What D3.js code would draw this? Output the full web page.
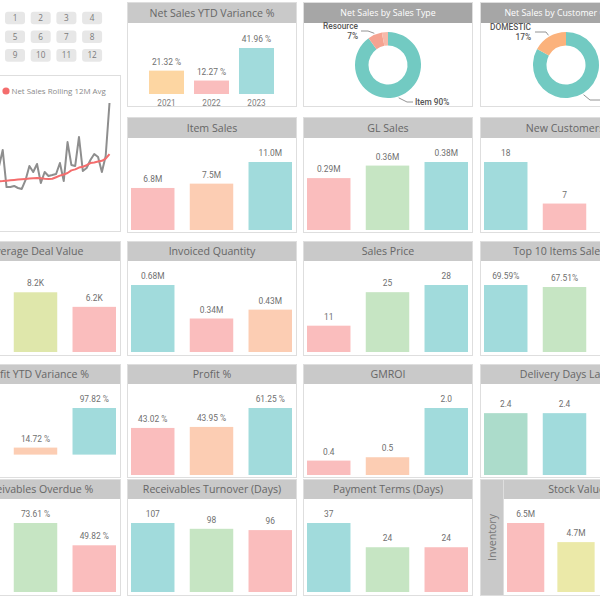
<!DOCTYPE html>
<html><head><meta charset="utf-8">
<script src="https://cdn.jsdelivr.net/npm/d3@7"></script>
<style>
html,body{margin:0;padding:0;background:#fff;overflow:hidden}
svg{display:block}
</style></head><body>
<svg id="c" width="600" height="600"></svg>
<script>
// ---------------- DATA ----------------
const monthButtons = ["1","2","3","4","5","6","7","8","9","10","11","12"];

// monthly net sales (K) and rolling 12M average (K), 36 months
const netSalesMonthly = [310,262,355,290,248,330,400,542,233,233,242,225,217,292,408,358,425,267,358,325,333,342,433,283,608,417,408,650,367,392,458,508,483,358,492,933];
const netSalesRolling = [262,266,269,272,275,278,281,283,286,289,292,295,298,301,304,307,308,306,303,301,302,315,328,338,350,372,380,395,402,415,433,438,445,452,470,508];
const lineLegend = ["Net Sales Rolling 12M Avg"];

const years = ["2021","2022","2023"];
const netSalesYtdVariance = [21.32, 12.27, 41.96];

const salesTypes = ["Item","Resource","G/L Account"];
const salesTypeShare = [90, 7, 3];
const customerGroups = ["FOREIGN","DOMESTIC"];
const customerShare = [83, 17];

const itemSales = [6.8, 7.5, 11.0];
const glSales = [0.29, 0.36, 0.38];
const newCustomers = [18, 7, 12];
const avgDealValue = [9.2, 8.2, 6.2];
const invoicedQuantity = [0.68, 0.34, 0.43];
const salesPrice = [11, 25, 28];
const top10ItemsSales = [69.59, 67.51, 64.2];
const profitYtdVariance = [-42.8, 14.72, 97.82];
const profitPct = [43.02, 43.95, 61.25];
const gmroi = [0.43, 0.53, 2.0];
const deliveryDaysLate = [2.4, 2.4, 2.6];
const receivablesOverdue = [70.1, 73.61, 49.82];
const receivablesTurnover = [107, 98, 96];
const paymentTerms = [37, 24, 24];
const stockValue = [6.5, 4.7, 3.9];

// ---------------- STYLE ----------------
const C = {pink:"#fabdbd", peach:"#fccdb3", orange:"#fdd6a2", teal:"#a1dbdc", green:"#c6e5c3",
           lime:"#dfe7ab", yellow:"#ebe9a8", mint:"#acdccb"};
const headFont = "'Segoe UI','Open Sans',sans-serif";
const numFont = "Roboto,'Noto Sans',sans-serif";

const svg = d3.select("#c");
const colX = [-49, 127, 303, 480];
const rows = [
  {top:2,   hb:23,  bottom:107, base:94},
  {top:117, hb:138, bottom:233, base:230},
  {top:241, hb:261, bottom:356, base:352},
  {top:364, hb:384, bottom:478, base:475},
  {top:479, hb:499, bottom:596, base:592}
];

function panel(x, y, w, h, title, dark, hb){
  const g = svg.append("g");
  g.append("rect").attr("x",x+0.5).attr("y",y+0.5).attr("width",w-1).attr("height",h-1)
    .attr("fill","#fff").attr("stroke","#dedede");
  if (title){
    g.append("rect").attr("x",x+1).attr("y",y+1).attr("width",w-2).attr("height",hb-y-1)
      .attr("fill", dark ? "#a6a6a6" : "#c9c9c9");
    g.append("text").attr("x",x+w/2).attr("y",(y+1+hb)/2).attr("dy","0.36em")
      .attr("text-anchor","middle").attr("font-family",headFont)
      .attr("font-size", dark ? 8.8 : 10.6).attr("fill", dark ? "#fff" : "#666").text(title);
  }
  return g;
}

function barChart(col, row, title, values, fmt, colors, opt){
  opt = opt || {};
  const r = rows[row];
  const px = opt.px != null ? opt.px : colX[col];
  const w = opt.w || 170;
  const g = panel(px, r.top, w, r.bottom - r.top, title, false, r.hb);
  const x = d3.scaleBand().domain(values.map((d,i)=>i))
     .range([px + (opt.l != null ? opt.l : 4), px + w - (opt.rr != null ? opt.rr : 5)])
     .paddingInner(opt.pi != null ? opt.pi : 0.26);
  const y = d3.scaleLinear().domain([Math.min(0, d3.min(values)), d3.max(values)])
     .range([r.base, r.hb + (opt.topGap || 24)]);
  g.selectAll(".b").data(values).join("rect")
    .attr("x",(d,i)=>x(i)).attr("width",x.bandwidth())
    .attr("y",d=>y(Math.max(0,d))).attr("height",d=>Math.abs(y(d)-y(0)))
    .attr("fill",(d,i)=>colors[i]);
  g.selectAll(".l").data(values).join("text")
    .attr("x",(d,i)=>x(i)+x.bandwidth()/2)
    .attr("y",d=> d>=0 ? y(d)-6 : y(d)+10)
    .attr("text-anchor","middle").attr("font-family",numFont)
    .attr("font-size",8.4).attr("fill","#6f6f6f").text(fmt);
  if (opt.cats){
    g.selectAll(".c").data(opt.cats).join("text")
      .attr("x",(d,i)=>x(i)+x.bandwidth()/2).attr("y",r.base+9).attr("dy","0.36em")
      .attr("text-anchor","middle").attr("font-family",numFont)
      .attr("font-size",8.2).attr("fill","#808080").text(d=>d);
  }
  return g;
}

// ---------------- SLICER ----------------
const sl = svg.append("g");
monthButtons.forEach((m,i)=>{
  const cx = 5 + (i%4)*25.7, cy = 11.7 + Math.floor(i/4)*18.7;
  sl.append("rect").attr("x",cx).attr("y",cy).attr("width",20).attr("height",12.6)
    .attr("rx",3).attr("fill","#e7e7e7");
  sl.append("text").attr("x",cx+10).attr("y",cy+6.3).attr("dy","0.36em")
    .attr("text-anchor","middle").attr("font-family",headFont).attr("font-size",8.2)
    .attr("fill","#7a7a7a").text(m);
});

// ---------------- LINE CHART ----------------
{
  const g = panel(-49, 75, 170, 157, null);
  const x = d3.scaleLinear().domain([0, netSalesMonthly.length-1]).range([-24, 109.5]);
  const y = d3.scaleLinear().domain([0, 1000]).range([215, 95]);
  const line = d3.line().x((d,i)=>x(i)).y(d=>y(d));
  g.append("path").datum(netSalesMonthly).attr("d",line).attr("fill","none")
    .attr("stroke","#8e8e8e").attr("stroke-width",2).attr("stroke-linejoin","round");
  g.append("path").datum(netSalesRolling).attr("d",line).attr("fill","none")
    .attr("stroke","#f46d6d").attr("stroke-width",2).attr("stroke-linejoin","round");
  g.append("circle").attr("cx",6).attr("cy",91).attr("r",3.6).attr("fill","#f46d6d");
  g.append("text").attr("x",11.5).attr("y",91).attr("dy","0.36em")
    .attr("font-family",headFont).attr("font-size",7.9).attr("fill","#8a8a8a").text(lineLegend[0]);
}

// ---------------- ROW 1 ----------------
barChart(1, 0, "Net Sales YTD Variance %", netSalesYtdVariance, d=>d.toFixed(2)+" %",
  [C.orange, C.pink, C.teal], {l:22, rr:23, pi:0.222, topGap:25, cats:years});

function donut(col, title, labels, share, colors, cx, cy, labelSpec){
  const r = rows[0];
  const g = panel(colX[col], r.top, 170, r.bottom - r.top, title, true, r.hb);
  const pie = d3.pie().sort(null).value(d=>d);
  const arcs = pie(share);
  const R = 33;
  const arc = d3.arc().innerRadius(19.5).outerRadius(R);
  g.selectAll(".s").data(arcs).join("path").attr("transform",`translate(${cx},${cy})`)
    .attr("d",arc).attr("fill",(d,i)=>colors[i]);
  labelSpec.forEach(s=>{
    const a = arcs[s.i];
    const mid = (a.startAngle + a.endAngle)/2;
    const p0 = [cx + (R+1.5)*Math.sin(mid), cy - (R+1.5)*Math.cos(mid)];
    g.append("polyline").attr("points",[p0, s.knee, s.end].map(p=>p.join(",")).join(" "))
      .attr("fill","none").attr("stroke","#888").attr("stroke-width",0.9);
    s.lines.forEach((t,k)=>{
      g.append("text").attr("x",s.tx).attr("y",s.ty + k*10).attr("dy","0.36em")
        .attr("text-anchor",s.anchor).attr("font-family",numFont).attr("font-weight",500)
        .attr("font-size",8.3).attr("fill","#555").text(t);
    });
  });
}

donut(2, "Net Sales by Sales Type", salesTypes, salesTypeShare, ["#72cac2","#f5a391","#f7b9a9"], 388, 65, [
  {i:1, knee:[368,31], end:[361,31], tx:358, ty:26, anchor:"end",
   lines:[salesTypes[1], salesTypeShare[1]+"%"]},
  {i:0, knee:[407,102], end:[413,102], tx:415, ty:102.5, anchor:"start",
   lines:[salesTypes[0]+" "+salesTypeShare[0]+"%"]}
]);
donut(3, "Net Sales by Customer Group", customerGroups, customerShare, ["#72cac2","#fbb27c"], 566, 65, [
  {i:1, knee:[546,32], end:[535,32], tx:531, ty:27, anchor:"end",
   lines:[customerGroups[1], customerShare[1]+"%"]},
  {i:0, knee:[590,100], end:[600,100], tx:603, ty:100.5, anchor:"start",
   lines:[customerGroups[0]+" "+customerShare[0]+"%"]}
]);

// ---------------- ROW 2 ----------------
barChart(1, 1, "Item Sales", itemSales, d=>d.toFixed(1)+"M", [C.pink, C.peach, C.teal]);
barChart(2, 1, "GL Sales", glSales, d=>d.toFixed(2)+"M", [C.pink, C.green, C.teal]);
barChart(3, 1, "New Customers", newCustomers, d=>String(d), [C.teal, C.pink, C.peach]);

// ---------------- ROW 3 ----------------
barChart(0, 2, "Average Deal Value", avgDealValue, d=>d.toFixed(1)+"K", [C.teal, C.lime, C.pink]);
barChart(1, 2, "Invoiced Quantity", invoicedQuantity, d=>d.toFixed(2)+"M", [C.teal, C.pink, C.peach]);
barChart(2, 2, "Sales Price", salesPrice, d=>String(d), [C.pink, C.green, C.teal]);
barChart(3, 2, "Top 10 Items Sales %", top10ItemsSales, d=>d.toFixed(2)+"%", [C.teal, C.green, C.pink]);

// ---------------- ROW 4 ----------------
barChart(0, 3, "Profit YTD Variance %", profitYtdVariance, d=>d.toFixed(2)+" %", [C.pink, C.peach, C.teal]);
barChart(1, 3, "Profit %", profitPct, d=>d.toFixed(2)+" %", [C.pink, C.peach, C.teal]);
barChart(2, 3, "GMROI", gmroi, d=>d.toFixed(1), [C.pink, C.peach, C.teal]);
barChart(3, 3, "Delivery Days Late", deliveryDaysLate, d=>d.toFixed(1), [C.mint, C.teal, C.pink]);

// ---------------- ROW 5 ----------------
barChart(0, 4, "Receivables Overdue %", receivablesOverdue, d=>d.toFixed(2)+" %", [C.teal, C.green, C.pink]);
barChart(1, 4, "Receivables Turnover (Days)", receivablesTurnover, d=>String(d), [C.teal, C.green, C.pink]);
barChart(2, 4, "Payment Terms (Days)", paymentTerms, d=>String(d), [C.teal, C.green, C.pink]);
{
  const r = rows[4];
  panel(480, r.top, 170, r.bottom - r.top, null);
  barChart(3, 4, "Stock Value", stockValue, d=>d.toFixed(1)+"M", [C.pink, C.yellow, C.teal], {px:503, w:147});
  svg.append("rect").attr("x",481).attr("y",r.top+1).attr("width",22).attr("height",r.bottom-r.top-2).attr("fill","#c9c9c9");
  svg.append("text").attr("transform",`translate(492,${(r.top+r.bottom)/2}) rotate(-90)`)
    .attr("dy","0.36em").attr("text-anchor","middle").attr("font-family",headFont)
    .attr("font-size",10.6).attr("fill","#777").text("Inventory");
}
</script>
</body></html>
